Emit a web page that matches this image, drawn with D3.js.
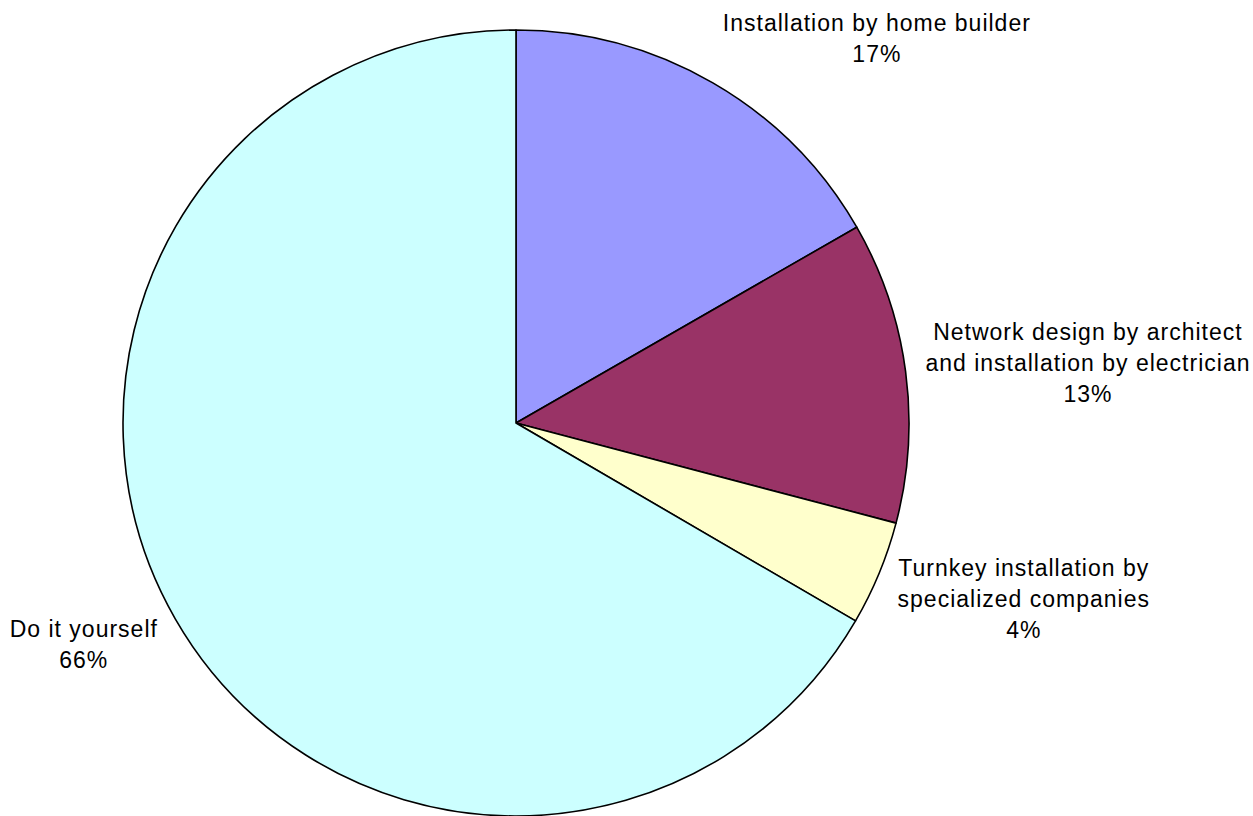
<!DOCTYPE html>
<html><head><meta charset="utf-8">
<script src="https://cdn.jsdelivr.net/npm/d3@7"></script>
<style>body{margin:0;background:#fff;}svg{display:block;}</style>
</head><body>
<svg id="chart" width="1253" height="816"></svg>
<script>
const categories = [
  ["Installation by home builder"],
  ["Network design by architect", "and installation by electrician"],
  ["Turnkey installation by", "specialized companies"],
  ["Do it yourself"]
];
const values = [16.7, 12.4, 4.3, 66.6];
const percentLabels = ["17%", "13%", "4%", "66%"];
const colors = ["#9999FF", "#993366", "#FFFFCC", "#CCFFFF"];

const svg = d3.select("#chart");
const cx = 516, cy = 423, radius = 393;
const g = svg.append("g").attr("transform", `translate(${cx},${cy})`);

const pie = d3.pie().sort(null).value(d => d)(values);
const arc = d3.arc().innerRadius(0).outerRadius(radius);

g.selectAll("path").data(pie).join("path")
  .attr("d", arc)
  .attr("fill", (d, i) => colors[i])
  .attr("stroke", "#000")
  .attr("stroke-width", 1.6)
  .attr("stroke-linejoin", "round");

const fontFamily = "Arial, 'Liberation Sans', sans-serif";
const fontSize = 23, letterSpacing = 1, lineH = 31, labelR = radius + 20;
pie.forEach((d, i) => {
  const a = (d.startAngle + d.endAngle) / 2;
  const s = Math.sin(a), c = Math.cos(a);
  const px = s * labelR, py = -c * labelR;
  const lines = categories[i].concat([percentLabels[i]]);
  const h = lines.length * lineH;
  const tmp = g.append("text").attr("font-family", fontFamily).attr("font-size", fontSize)
    .attr("letter-spacing", letterSpacing);
  let w = 0;
  lines.forEach(l => { tmp.text(l); w = Math.max(w, tmp.node().getComputedTextLength()); });
  tmp.remove();
  const left = s >= 0 ? px : px - w;
  const top = py - h / 2 - (h / 2) * c;
  const t = g.append("text")
    .attr("font-family", fontFamily)
    .attr("font-size", fontSize)
    .attr("letter-spacing", letterSpacing)
    .attr("fill", "#000")
    .attr("text-anchor", "middle");
  lines.forEach((l, k) => {
    t.append("tspan").attr("x", left + w / 2)
      .attr("y", top + lineH * k + lineH / 2 + fontSize * 0.716 / 2).text(l);
  });
});
</script>
</body></html>
